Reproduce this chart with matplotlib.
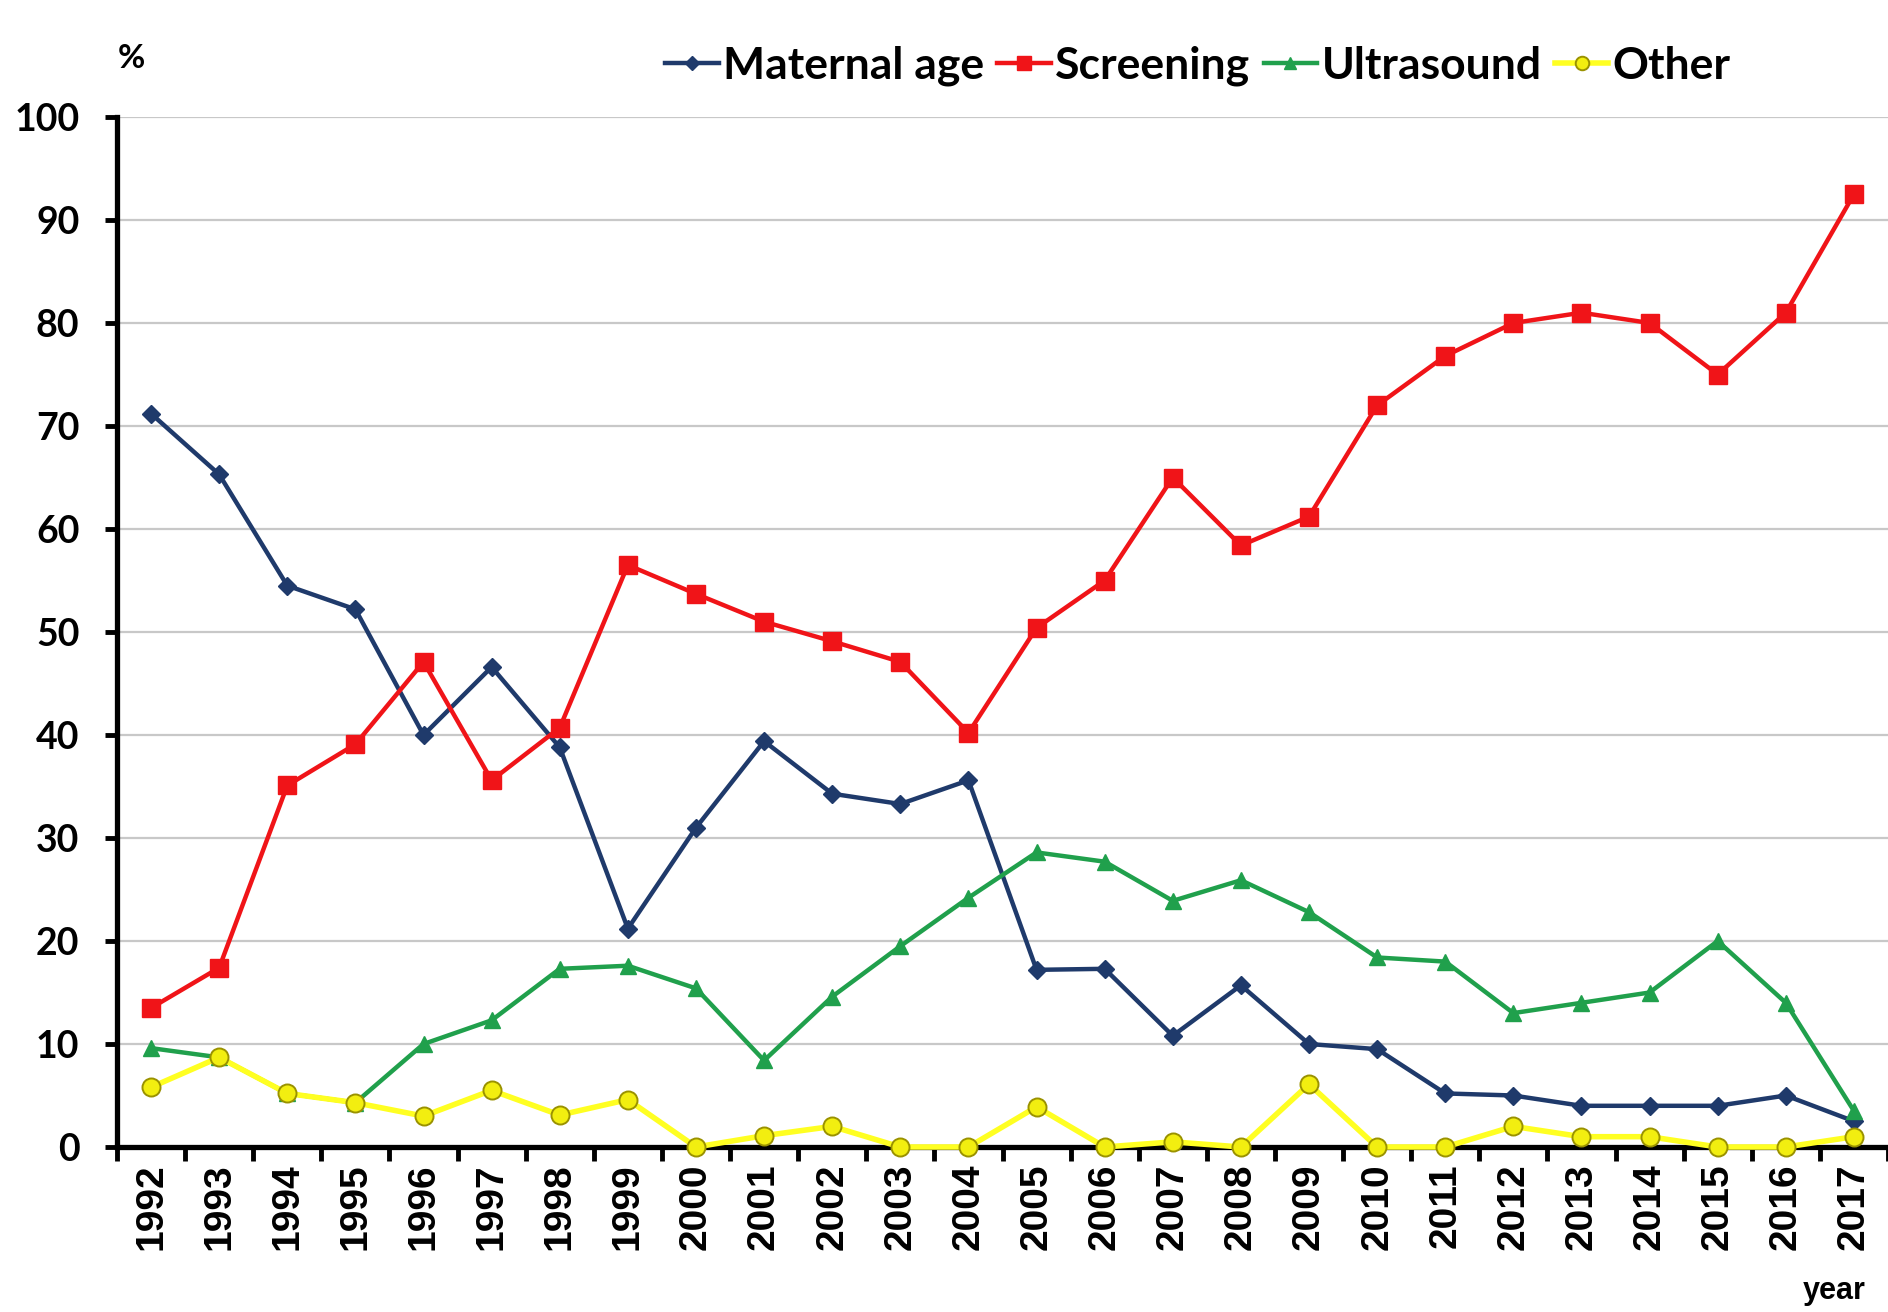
import matplotlib
matplotlib.use("Agg")
import matplotlib.pyplot as plt
from matplotlib.ticker import FixedLocator

years = list(range(1992, 2018))
maternal_age = [71.2, 65.3, 54.5, 52.2, 40.0, 46.6, 38.8, 21.2, 31.0, 39.4, 34.3, 33.3, 35.6,
                17.2, 17.3, 10.8, 15.7, 10.0, 9.5, 5.2, 5.0, 4.0, 4.0, 4.0, 5.0, 2.5]
screening = [13.5, 17.4, 35.1, 39.1, 47.1, 35.6, 40.7, 56.5, 53.7, 51.0, 49.1, 47.1, 40.2,
             50.4, 55.0, 65.0, 58.4, 61.2, 72.0, 76.8, 80.0, 81.0, 80.0, 75.0, 81.0, 92.5]
ultrasound = [9.6, 8.7, 5.2, 4.3, 10.0, 12.3, 17.3, 17.6, 15.4, 8.4, 14.6, 19.5, 24.2,
              28.6, 27.7, 23.9, 25.9, 22.8, 18.4, 18.0, 13.0, 14.0, 15.0, 20.0, 14.0, 3.5]
other = [5.8, 8.7, 5.2, 4.3, 3.0, 5.5, 3.1, 4.6, 0.0, 1.1, 2.0, 0.0, 0.0,
         3.9, 0.0, 0.5, 0.0, 6.1, 0.0, 0.0, 2.0, 1.0, 1.0, 0.0, 0.0, 1.0]
series_names = ["Maternal age", "Screening", "Ultrasound", "Other"]
y_ticks = [0, 10, 20, 30, 40, 50, 60, 70, 80, 90, 100]

narrow = ["Lato", "DejaVu Sans"]
arial = ["Liberation Sans", "DejaVu Sans"]

W, H = 1888, 1312
fig = plt.figure(figsize=(W / 100, H / 100), dpi=100)
ax = fig.add_axes([117 / W, 1 - 1147 / H, 1 - 117 / W, (1147 - 117) / H])

lw = 3.2
ax.plot(years, maternal_age, color="#1F3A6B", lw=lw, marker="D", ms=9,
        mec="#1F3A6B", label=series_names[0], zorder=3, clip_on=False)
ax.plot(years, screening, color="#F01418", lw=lw, marker="s", ms=13,
        mec="#F01418", label=series_names[1], zorder=3, clip_on=False)
ax.plot(years, ultrasound, color="#20A04C", lw=lw, marker="^", ms=12,
        mec="#20A04C", label=series_names[2], zorder=3, clip_on=False)
ax.plot(years, other, color="#FFFF22", lw=4.0, marker="o", ms=13,
        mfc="#F2EE10", mec="#9A9200", mew=1.4, label=series_names[3], zorder=4, clip_on=False)

ax.set_xlim(1991.5, 2017.5)
ax.set_ylim(0, 100)

ax.set_yticks(y_ticks)
ax.set_yticklabels([str(v) for v in y_ticks], fontfamily=narrow, fontweight="bold", fontsize=27)
ax.yaxis.grid(True, color="#C8C8C8", lw=1.6)
ax.set_axisbelow(True)

ax.set_xticks(years)
ax.set_xticklabels([str(y) for y in years], rotation=90, fontfamily=arial,
                   fontweight="bold", fontsize=28)
ax.xaxis.set_minor_locator(FixedLocator([y - 0.5 for y in years] + [years[-1] + 0.5]))
ax.tick_params(axis="x", which="major", length=0, pad=12)
ax.tick_params(axis="x", which="minor", length=10, width=3.5, direction="out", color="black")
ax.tick_params(axis="y", which="major", length=9, width=3.5, direction="out", pad=18, color="black")

for s in ["top", "right"]:
    ax.spines[s].set_visible(False)
for s in ["left", "bottom"]:
    ax.spines[s].set_linewidth(3.8)
    ax.spines[s].set_color("black")

fig.text(118 / W, 1 - 58 / H, "%", fontfamily=narrow, fontweight="bold", fontsize=24,
         ha="left", va="center")
fig.text(1866 / W, 1 - 1276 / H, "year", fontfamily=arial, fontweight="bold", fontsize=22,
         ha="right", va="top")

leg = fig.legend(loc="center", bbox_to_anchor=(1198 / W, 1 - 66 / H), ncol=4, frameon=False,
                 prop={"family": narrow, "weight": "bold", "size": 32},
                 handlelength=1.2, handletextpad=0.1, columnspacing=0.3, markerscale=0.75)

fig.savefig("out.png", dpi=100)
